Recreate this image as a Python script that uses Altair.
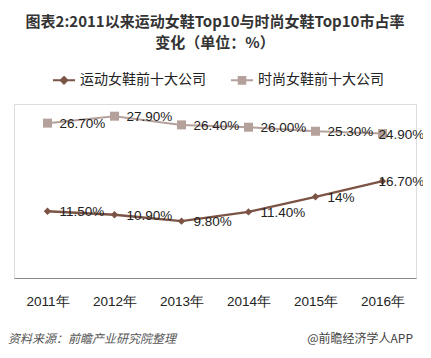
import altair as alt
import pandas as pd

years = ["2011年", "2012年", "2013年", "2014年", "2015年", "2016年"]
sport = [11.5, 10.9, 9.8, 11.4, 14.0, 16.7]
sport_labels = ["11.50%", "10.90%", "9.80%", "11.40%", "14%", "16.70%"]
fashion = [26.7, 27.9, 26.4, 26.0, 25.3, 24.9]
fashion_labels = ["26.70%", "27.90%", "26.40%", "26.00%", "25.30%", "24.90%"]
series_names = ["运动女鞋前十大公司", "时尚女鞋前十大公司"]
title_lines = ["图表2:2011以来运动女鞋Top10与时尚女鞋Top10市占率", "变化（单位：%）"]
source_text = "资料来源：前瞻产业研究院整理"
brand_text = "@前瞻经济学人APP"

C_SPORT = "#7B5446"
C_FASH = "#B5A19B"
FONT = "Noto Sans CJK SC"
NUMFONT = "Liberation Sans"

rows = []
for i, y in enumerate(years):
    rows.append({"year": y, "series": series_names[0], "value": sport[i], "label": sport_labels[i], "last": i == len(years) - 1})
    rows.append({"year": y, "series": series_names[1], "value": fashion[i], "label": fashion_labels[i], "last": i == len(years) - 1})
df = pd.DataFrame(rows)

xenc = alt.X("year:N", sort=years, scale=alt.Scale(paddingInner=1, paddingOuter=0.5, align=0.5),
             axis=alt.Axis(title=None, labelAngle=0, ticks=False, domainColor="#888888", domainWidth=1,
                           labelFont=NUMFONT, labelFontSize=13.5, labelColor="#222222", labelPadding=16,
                           grid=False))
yenc = alt.Y("value:Q", scale=alt.Scale(domain=[0, 30], nice=False, zero=True), axis=None)

base = alt.Chart(df)

path_diamond = "M-2,0H2M0,-0.6L0.6,0L0,0.6L-0.6,0Z"
path_square = "M-2,0H2M-0.6,-0.6H0.6V0.6H-0.6Z"

leg = alt.Legend(title=None, orient="none", legendX=43, legendY=-31,
                 direction="horizontal", labelFont=FONT, labelFontSize=14,
                 labelColor="#222222", symbolSize=121, labelOffset=9,
                 columnPadding=21, symbolStrokeWidth=2, symbolOpacity=1)

legend_layer = base.transform_filter("false").mark_point(filled=True).encode(
    x=xenc, y=yenc,
    fill=alt.Fill("series:N", sort=series_names,
                  scale=alt.Scale(domain=series_names, range=[C_SPORT, C_FASH]), legend=leg),
    stroke=alt.Stroke("series:N", sort=series_names,
                      scale=alt.Scale(domain=series_names, range=[C_SPORT, C_FASH]), legend=leg),
    shape=alt.Shape("series:N", sort=series_names,
                    scale=alt.Scale(domain=series_names, range=[path_diamond, path_square]), legend=leg),
)

line_sport = base.transform_filter(alt.datum.series == series_names[0]).mark_line(
    strokeWidth=2.4, color=C_SPORT).encode(x=xenc, y=yenc)
line_fash = base.transform_filter(alt.datum.series == series_names[1]).mark_line(
    strokeWidth=2, color=C_FASH).encode(x=xenc, y=yenc)

pts_sport = base.transform_filter(alt.datum.series == series_names[0]).mark_point(
    shape="diamond", filled=True, size=55, color=C_SPORT, opacity=1).encode(x=xenc, y=yenc)
pts_fash = base.transform_filter(alt.datum.series == series_names[1]).mark_point(
    shape="square", filled=True, size=81, color=C_FASH, opacity=1).encode(x=xenc, y=yenc)

lab_main = base.transform_filter(~alt.datum.last).mark_text(
    align="left", baseline="middle", dx=12, dy=1, font=NUMFONT, fontSize=13.5, color="#222222"
).encode(x=xenc, y=yenc, text="label:N")
lab_last = base.transform_filter(alt.datum.last).mark_text(
    align="left", baseline="middle", dx=-4, dy=1, font=NUMFONT, fontSize=13.5, color="#222222"
).encode(x=xenc, y=yenc, text="label:N")

t1 = alt.Chart(pd.DataFrame({"t": [title_lines[0]]})).mark_text(
    font=FONT, fontSize=15, fontWeight="bold", color="#333333", align="center", baseline="middle"
).encode(x=alt.value(201), y=alt.value(-82), text="t:N")
t2 = alt.Chart(pd.DataFrame({"t": [title_lines[1]]})).mark_text(
    font=FONT, fontSize=15, fontWeight="bold", color="#333333", align="center", baseline="middle"
).encode(x=alt.value(201), y=alt.value(-61), text="t:N")
src = alt.Chart(pd.DataFrame({"t": [source_text]})).mark_text(
    font=FONT, fontSize=12, fontStyle="italic", color="#555555", align="left", baseline="middle"
).encode(x=alt.value(-6), y=alt.value(235), text="t:N")
brand = alt.Chart(pd.DataFrame({"t": [brand_text]})).mark_text(
    font=FONT, fontSize=12, color="#444444", align="right", baseline="middle"
).encode(x=alt.value(399), y=alt.value(235), text="t:N")

chart = alt.layer(legend_layer, line_fash, line_sport, pts_sport, pts_fash, lab_main, lab_last,
                  t1, t2, src, brand).properties(
    width=402, height=174,
    autosize=alt.AutoSizeParams(type="none"),
    padding={"left": 6, "top": 96, "right": 7, "bottom": 72},
).configure_view(stroke=None).configure(background="white")

chart.save("out.html", embed_options={"renderer": "svg", "actions": False})
